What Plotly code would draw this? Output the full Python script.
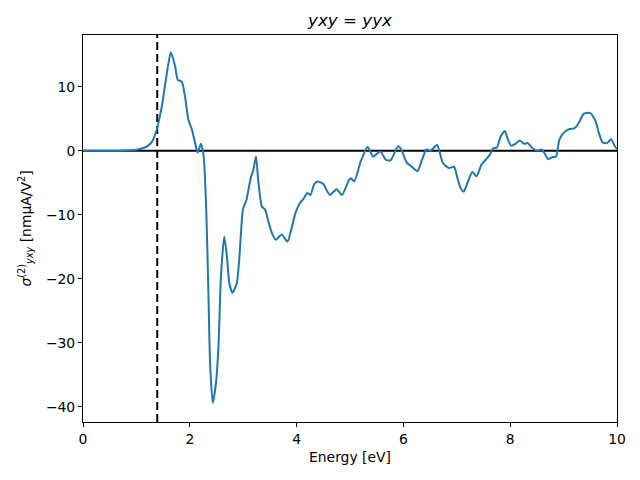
import plotly.graph_objects as go

energy = [0, 0.5, 0.8, 1.0, 1.1, 1.2, 1.29, 1.38, 1.475, 1.57, 1.645, 1.725, 1.775, 1.85, 1.91,
          1.975, 2.04, 2.1, 2.145, 2.21, 2.26, 2.31, 2.35, 2.38, 2.43, 2.49, 2.54, 2.58, 2.645,
          2.695, 2.74, 2.8, 2.88, 2.93, 2.995, 3.06, 3.14, 3.19, 3.24, 3.28, 3.35, 3.41, 3.47,
          3.54, 3.61, 3.72, 3.83, 3.9, 3.98, 4.06, 4.13, 4.2, 4.26, 4.33, 4.4, 4.5, 4.62, 4.75,
          4.85, 4.98, 5.02, 5.08, 5.2, 5.33, 5.43, 5.57, 5.67, 5.76, 5.9, 5.96, 6.06, 6.16, 6.26,
          6.35, 6.43, 6.51, 6.63, 6.74, 6.85, 6.95, 7.01, 7.07, 7.13, 7.2, 7.29, 7.37, 7.46, 7.54,
          7.62, 7.68, 7.75, 7.82, 7.9, 7.96, 8.02, 8.1, 8.18, 8.26, 8.33, 8.42, 8.51, 8.59, 8.65,
          8.71, 8.79, 8.86, 8.92, 9.0, 9.11, 9.2, 9.28, 9.38, 9.5, 9.6, 9.66, 9.73, 9.81, 9.89,
          9.96, 10.0]
sigma = [0, 0.0, 0.05, 0.15, 0.35, 0.7, 1.4, 3.3, 6.9, 12.1, 15.4, 13.2, 11.1, 10.8, 8.5,
         4.8, 3.3, 1.2, -0.3, 1.1, -0.9, -9.7, -22.8, -33.2, -39.4, -36.3, -30, -20.2, -13.4,
         -16.5, -20.7, -22.2, -20.7, -16.5, -9.2, -7.7, -4.3, -3.0, -0.9, -4.5, -8.7, -9.2, -11,
         -12.9, -13.9, -13.1, -14.2, -12.3, -9.7, -8.2, -7.5, -6.6, -6.9, -5.2, -4.8, -5.2, -6.9, -6.0,
         -6.9, -4.6, -4.3, -4.8, -1.7, 0.6, -0.9, -0.1, -1.4, -1.5, 0.7, 0.2, -1.8, -2.5, -3.2,
         -1.4, 0.2, 0.0, 0.9, -1.9, -2.7, -2.5, -4.2, -5.8, -6.4, -5.0, -3.3, -4.0, -2.2, -1.4,
         -0.6, 0.4, 0.5, 2.2, 3.1, 1.7, 0.8, 1.1, 1.6, 1.1, 1.2, 0.4, 0.0, 0.2, -0.5,
         -1.3, -1.0, -0.9, 1.7, 2.8, 3.4, 3.5, 4.3, 5.8, 5.9, 4.6, 2.8, 1.3, 1.2, 1.8,
         0.7, 0.3]

gap_energy = 1.39
x_range = [0, 10]
y_range = [-42.4, 18.1]
x_ticks = [0, 2, 4, 6, 8, 10]
y_ticks = [-40, -30, -20, -10, 0, 10]

fig = go.Figure()
fig.add_trace(go.Scatter(x=x_range, y=[0, 0], mode="lines",
                         line=dict(color="black", width=2), showlegend=False))
fig.add_trace(go.Scatter(x=[gap_energy, gap_energy], y=y_range, mode="lines",
                         line=dict(color="black", width=2, dash="8px,4px"), showlegend=False))
fig.add_trace(go.Scatter(x=energy, y=sigma, mode="lines",
                         line=dict(color="#1f77b4", width=2, shape="spline", smoothing=0.6),
                         showlegend=False))

font = dict(family="DejaVu Sans", size=13.9, color="black")
axis_common = dict(showgrid=False, zeroline=False, showline=True, linecolor="black", linewidth=1,
                   mirror=True, ticks="outside", ticklen=4, tickwidth=1, tickcolor="black",
                   tickfont=font)
fig.update_layout(
    width=640, height=480, plot_bgcolor="white", paper_bgcolor="white",
    margin=dict(l=83, r=23, t=35, b=58),
    font=font,
    title=dict(text="<i>yxy</i> = <i>yyx</i>", x=0.5, xref="paper", y=1 - 20 / 480,
               yanchor="middle", font=dict(family="DejaVu Sans", size=16.7, color="black")),
    xaxis=dict(range=x_range, tickvals=x_ticks,
               title=dict(text="Energy [eV]", font=font, standoff=6), **axis_common),
    yaxis=dict(range=y_range, tickvals=y_ticks, tickformat="d",
               title=dict(text="<i>σ</i><sup>(2)</sup><sub><i>yxy</i></sub> [nmμA/V<sup>2</sup>]",
                          font=font, standoff=11), **axis_common),
)
fig.write_html("out.html")
